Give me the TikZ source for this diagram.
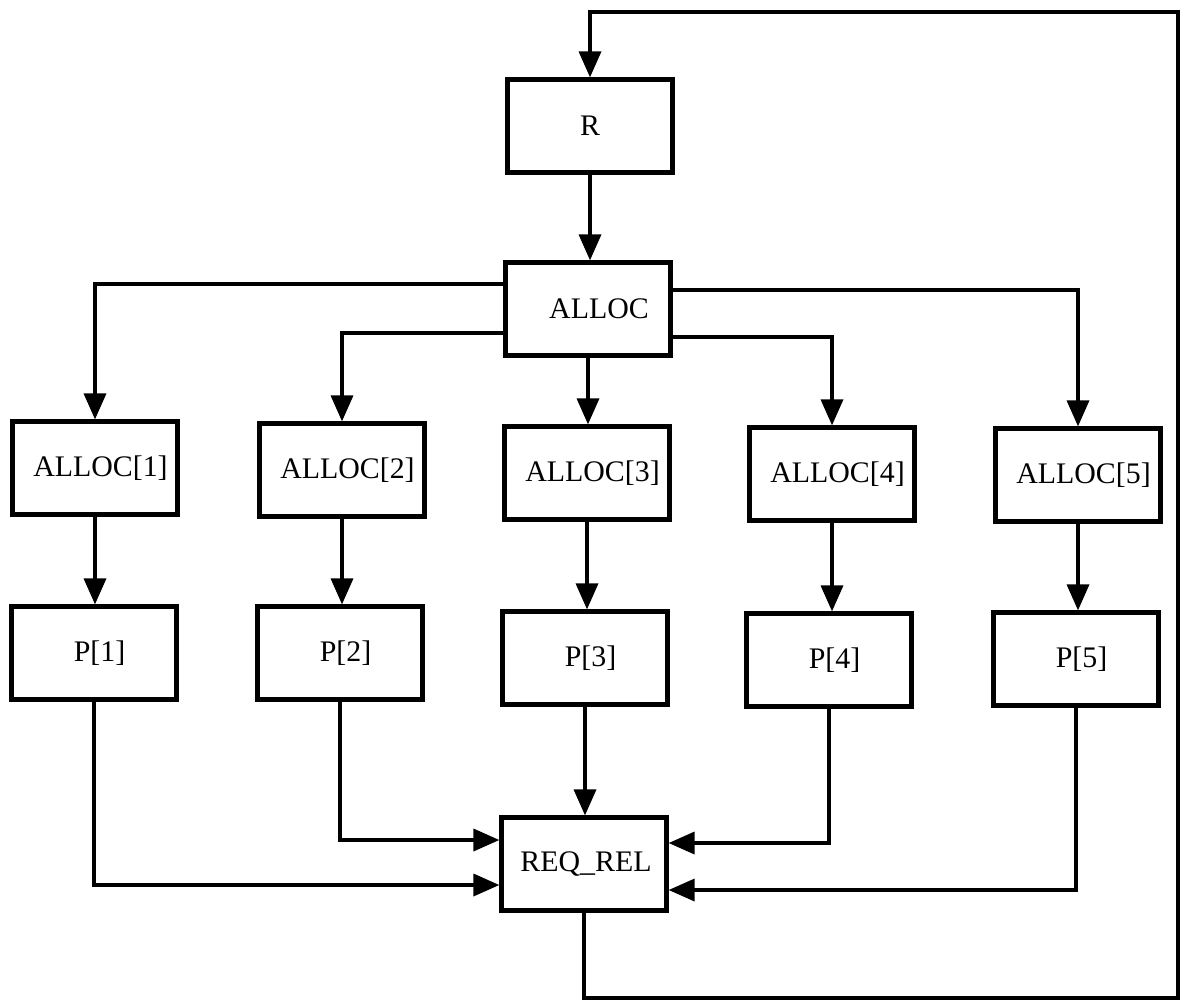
\documentclass[tikz,border=0pt]{standalone}
\usepackage{fontspec}
\setmainfont{Liberation Serif}
\usetikzlibrary{arrows.meta}
\begin{document}
\begin{tikzpicture}[x=0.02cm,y=-0.02cm,
  box/.style={draw, line width=0.085cm, minimum width=3.3cm, minimum height=1.86cm, inner sep=0pt,
    font=\fontsize{17}{20}\selectfont, execute at begin node={\hspace*{#1}}},
  box/.default=0.22cm,
  arr/.style={line width=0.07cm, -{Triangle[length=0.52cm,width=0.44cm]}}]
\useasboundingbox[fill=white] (0,0) rectangle (1185,1005);

\node[box=0pt] (R) at (590,126) {R};
\node[box=0.44cm] (AL) at (588,309) {ALLOC};
\node[box] (A1) at (95,468) {ALLOC[1]};
\node[box] (A2) at (342,470) {ALLOC[2]};
\node[box] (A3) at (587,473) {ALLOC[3]};
\node[box] (A4) at (832,474) {ALLOC[4]};
\node[box] (A5) at (1078,475) {ALLOC[5]};
\node[box] (P1) at (94,653) {P[1]};
\node[box] (P2) at (340,653) {P[2]};
\node[box] (P3) at (585,658) {P[3]};
\node[box] (P4) at (829,660) {P[4]};
\node[box] (P5) at (1076,659) {P[5]};
\node[box=0.08cm] (RQ) at (584,864) {REQ\_REL};

\draw[arr] (R.south) -- (R.south |- AL.north);
\draw[arr] ([shift={(0,-25)}]AL.west) -| (A1.north);
\draw[arr] ([shift={(0,24)}]AL.west) -| (A2.north);
\draw[arr] (AL.south) -- (AL.south |- A3.north);
\draw[arr] ([shift={(0,28)}]AL.east) -| (A4.north);
\draw[arr] ([shift={(0,-19)}]AL.east) -| (A5.north);
\foreach \i in {1,...,5}{
  \draw[arr] (A\i.south) -- (A\i.south |- P\i.north);
}
\draw[arr] (P1.south) |- ([shift={(0,21)}]RQ.west);
\draw[arr] (P2.south) |- ([shift={(0,-24)}]RQ.west);
\draw[arr] (P3.south) -- (P3.south |- RQ.north);
\draw[arr] (P4.south) |- ([shift={(0,-21)}]RQ.east);
\draw[arr] (P5.south) |- ([shift={(0,26)}]RQ.east);

\coordinate (lb) at (1178,998);
\coordinate (lt) at (1178,12);
\draw[arr] (RQ.south) |- (lb) -- (lt) -| (R.north);
\end{tikzpicture}
\end{document}
